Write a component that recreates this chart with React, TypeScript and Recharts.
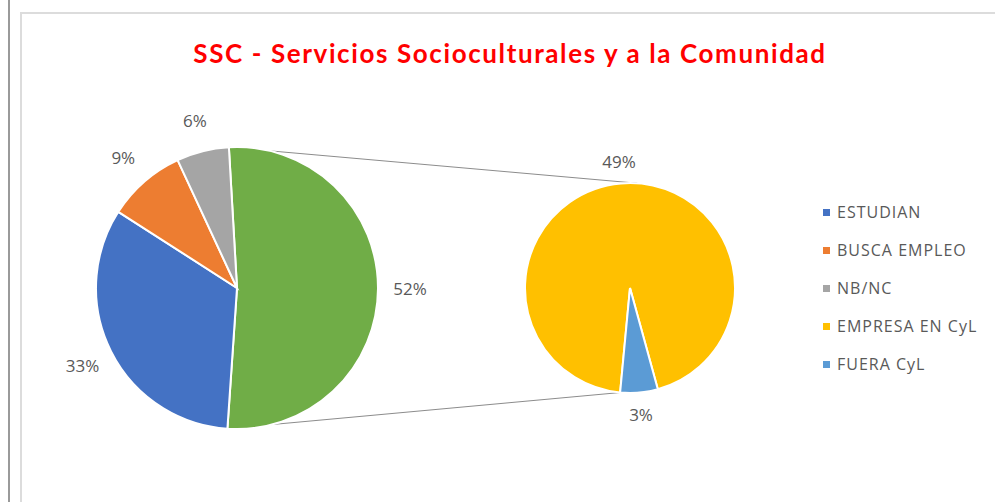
import React from "react";
import { PieChart, Pie, Cell, Legend, Customized } from "recharts";

// main pie: the green slice is the part that is split out into the small pie
const mainNames = ["OTROS", "ESTUDIAN", "BUSCA EMPLEO", "NB/NC"];
const mainValues = [52, 33, 9, 6];
const mainColors = ["#70AD47", "#4472C4", "#ED7D31", "#A5A5A5"];

const subNames = ["EMPRESA EN CyL", "FUERA CyL"];
const subValues = [49, 3];
const subColors = ["#FFC000", "#5B9BD5"];

const legendNames = ["ESTUDIAN", "BUSCA EMPLEO", "NB/NC", "EMPRESA EN CyL", "FUERA CyL"];
const legendColors = ["#4472C4", "#ED7D31", "#A5A5A5", "#FFC000", "#5B9BD5"];

const title = "SSC - Servicios Socioculturales y a la Comunidad";

const mainData = mainNames.map((name, i) => ({ name, value: mainValues[i] }));
const subData = subNames.map((name, i) => ({ name, value: subValues[i] }));

const MAIN = { cx: 237, cy: 288, r: 141 };
const SUB = { cx: 630, cy: 288, r: 105 };
const RAD = Math.PI / 180;
const FONT = "'Open Sans', sans-serif";

// clockwise-from-top angle -> point on circle
const onCircle = (c: typeof MAIN, deg: number) => ({
  x: c.cx + c.r * Math.sin(deg * RAD),
  y: c.cy - c.r * Math.cos(deg * RAD),
});

const makeLabel = (offset: number) => (props: any) => {
  const { cx, cy, midAngle, outerRadius, value } = props;
  const r = outerRadius + offset;
  const x = cx + r * Math.cos(-midAngle * RAD);
  const y = cy + r * Math.sin(-midAngle * RAD);
  return (
    <text
      x={x}
      y={y}
      fill="#595959"
      fontSize={17}
      fontFamily={FONT}
      textAnchor="middle"
      dominantBaseline="central"
    >
      {`${value}%`}
    </text>
  );
};

const Connectors = () => {
  const a = onCircle(MAIN, -3.3);
  const b = onCircle(SUB, 4);
  const c = onCircle(MAIN, 184);
  const d = onCircle(SUB, 185.4);
  return (
    <g>
      <line x1={a.x} y1={a.y} x2={b.x} y2={b.y} stroke="#8c8c8c" strokeWidth={1} />
      <line x1={c.x} y1={c.y} x2={d.x} y2={d.y} stroke="#8c8c8c" strokeWidth={1} />
    </g>
  );
};

const Title = () => (
  <text
    x={510}
    y={63}
    textAnchor="middle"
    fill="#FF0000"
    fontSize={26}
    fontWeight={700}
    letterSpacing={1.6}
    fontFamily="Lato, sans-serif"
  >
    {title}
  </text>
);

const renderLegend = () => (
  <div style={{ fontFamily: FONT, fontSize: 16, letterSpacing: 1, color: "#595959" }}>
    {legendNames.map((name, i) => (
      <div key={name} style={{ display: "flex", alignItems: "center", height: 38 }}>
        <span
          style={{
            width: 7,
            height: 7,
            background: legendColors[i],
            marginRight: 7,
            display: "inline-block",
          }}
        />
        <span>{name}</span>
      </div>
    ))}
  </div>
);

export default function App() {
  return (
    <div style={{ position: "absolute", left: 0, top: 0, width: 995, height: 502, background: "#fff" }}>
      <div style={{ position: "absolute", left: 8, top: 0, width: 2, height: 502, background: "#9a9a9a" }} />
      <div
        style={{
          position: "absolute",
          left: 20,
          top: 12,
          width: 980,
          height: 500,
          borderTop: "2px solid #dcdcdc",
          borderLeft: "2px solid #dcdcdc",
        }}
      />
      <div style={{ position: "absolute", left: 0, top: 0 }}>
        <PieChart width={995} height={502} margin={{ top: 0, right: 0, bottom: 0, left: 0 }}>
          <Customized component={Connectors} />
          <Customized component={Title} />
          <Pie
            data={mainData}
            dataKey="value"
            nameKey="name"
            cx={MAIN.cx}
            cy={MAIN.cy}
            outerRadius={MAIN.r}
            startAngle={93.3}
            endAngle={-266.7}
            stroke="#fff"
            strokeWidth={2}
            label={makeLabel(32)}
            labelLine={false}
            isAnimationActive={false}
          >
            {mainData.map((d, i) => (
              <Cell key={d.name} fill={mainColors[i]} />
            ))}
          </Pie>
          <Pie
            data={subData}
            dataKey="value"
            nameKey="name"
            cx={SUB.cx}
            cy={SUB.cy}
            outerRadius={SUB.r}
            startAngle={-95.4}
            endAngle={-455.4}
            stroke="#fff"
            strokeWidth={2}
            label={makeLabel(22)}
            labelLine={false}
            isAnimationActive={false}
          >
            {subData.map((d, i) => (
              <Cell key={d.name} fill={subColors[i]} />
            ))}
          </Pie>
          <Legend
            content={renderLegend}
            wrapperStyle={{ position: "absolute", left: 823, top: 193, width: 170 }}
          />
        </PieChart>
      </div>
    </div>
  );
}
